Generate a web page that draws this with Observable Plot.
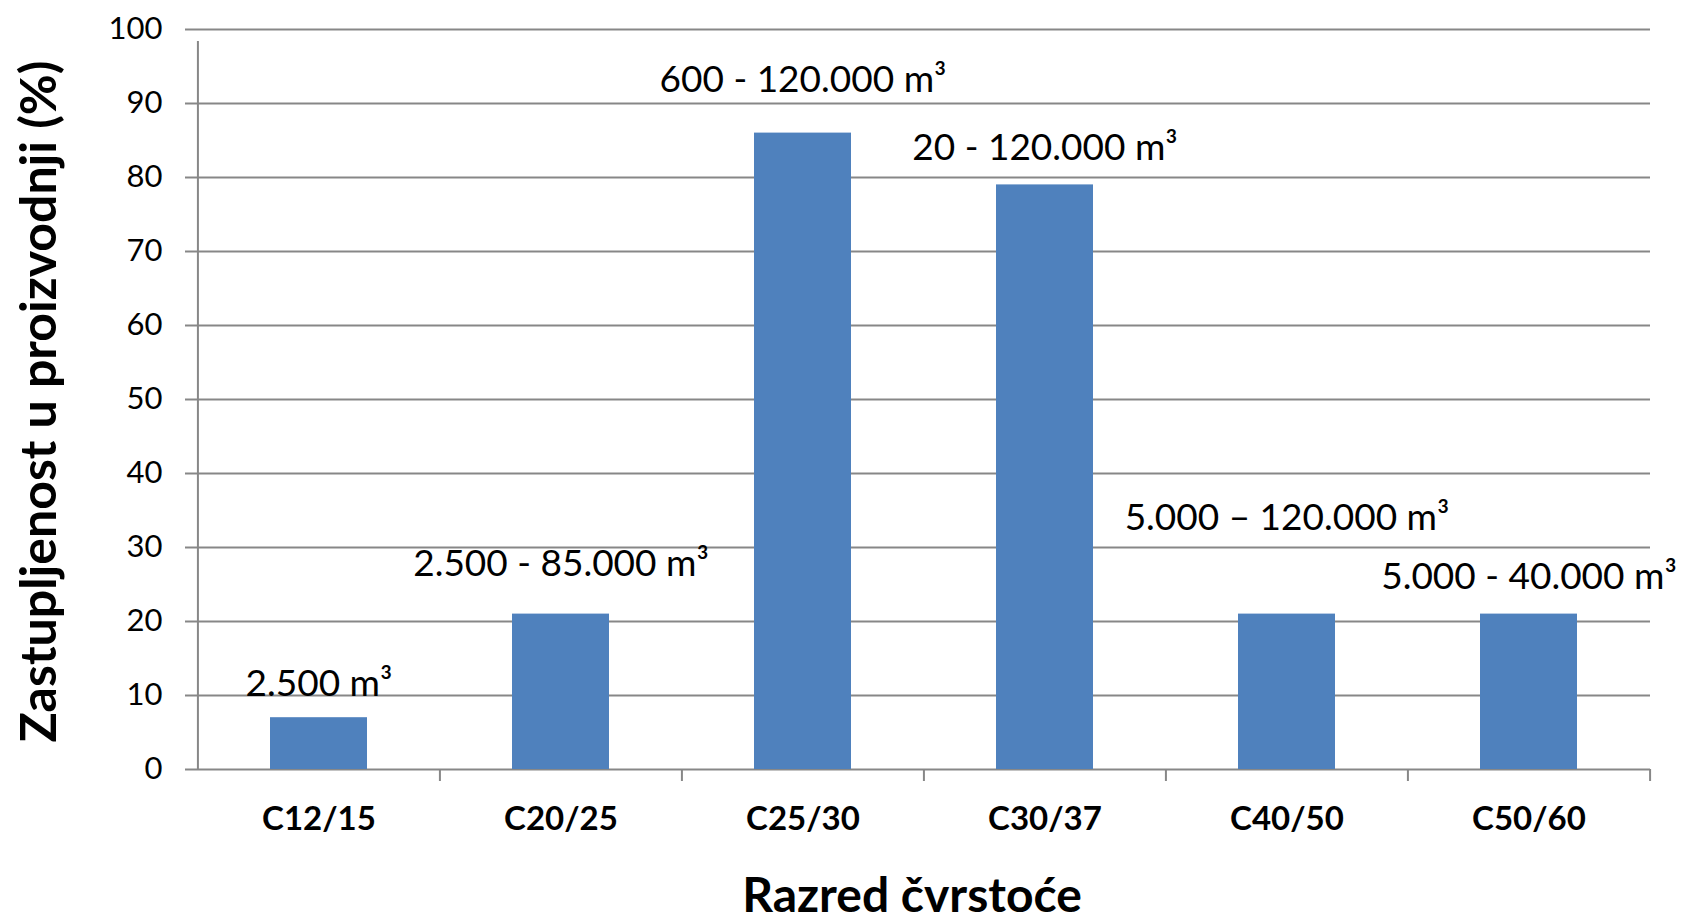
<!DOCTYPE html>
<html><head><meta charset="utf-8">
<script src="https://cdn.jsdelivr.net/npm/d3@7"></script>
<script src="https://cdn.jsdelivr.net/npm/@observablehq/plot@0.6"></script>
<style>body{margin:0;background:#fff}</style>
</head><body><div id="chart"></div>
<script>
const categories = ["C12/15", "C20/25", "C25/30", "C30/37", "C40/50", "C50/60"];
const shares = [7, 21, 86, 79, 21, 21];
const volumeLabels = ["2.500 m³", "2.500 - 85.000 m³", "600 - 120.000 m³", "20 - 120.000 m³", "5.000 – 120.000 m³", "5.000 - 40.000 m³"];
const labelLevels = [10, 26.1, 91.6, 82.4, 32.4, 24.4];
const yTicks = [0, 10, 20, 30, 40, 50, 60, 70, 80, 90, 100];
const xTitle = "Razred čvrstoće";
const yTitle = "Zastupljenost u proizvodnji (%)";

const W = 1693, H = 921, ML = 197, MR = 43, MT = 29, MB = 152;
const step = (W - ML - MR) / categories.length;
const GRID = "#878787";
const rows = categories.map((c, i) => ({cat: c, share: shares[i], label: volumeLabels[i], level: labelLevels[i]}));

const chart = Plot.plot({
  width: W, height: H,
  marginLeft: ML, marginRight: MR, marginTop: MT, marginBottom: MB,
  style: {fontFamily: "Lato", background: "white", overflow: "visible", color: "black"},
  x: {domain: categories, paddingInner: 0.6, paddingOuter: 0.3, label: null},
  y: {domain: [0, 100], label: null},
  marks: [
    Plot.gridY(yTicks, {stroke: GRID, strokeWidth: 2, strokeOpacity: 1}),
    Plot.ruleX([categories[0]], {x: d => d, dx: -step / 2, y1: 0, y2: 100, insetBottom: -12, stroke: GRID, strokeWidth: 2}),
    Plot.ruleX(categories.slice(1), {x: d => d, dx: -step / 2, y1: 0, y2: 0, insetBottom: -12, stroke: GRID, strokeWidth: 2}),
    Plot.ruleX([categories[categories.length - 1]], {x: d => d, dx: step / 2, y1: 0, y2: 0, insetBottom: -12, stroke: GRID, strokeWidth: 2}),
    Plot.barY(rows, {x: "cat", y: "share", fill: "#4F81BD"}),
    Plot.axisY(yTicks, {tickSize: 12, tickPadding: 23, fontSize: 31, stroke: GRID, strokeWidth: 2, fill: "black", label: null}),
    Plot.axisX({tickSize: 0, tickPadding: 37, fontSize: 33, fontWeight: "bold", fill: "black", label: null}),
    Plot.text(rows, {x: "cat", y: "level", text: "label", lineAnchor: "bottom", fontSize: 37, fill: "black"}),
    Plot.text([xTitle], {text: d => d, frameAnchor: "bottom", textAnchor: "middle", dx: -12, dy: 142, lineAnchor: "bottom", fontSize: 48, fontWeight: "bold", fill: "black"}),
    Plot.text([yTitle], {text: d => d, frameAnchor: "left", textAnchor: "middle", lineAnchor: "middle", dx: -158, dy: 2, rotate: -90, fontSize: 50, fontWeight: "bold", fill: "black"})
  ]
});
document.getElementById("chart").append(chart);
</script>
</body></html>
